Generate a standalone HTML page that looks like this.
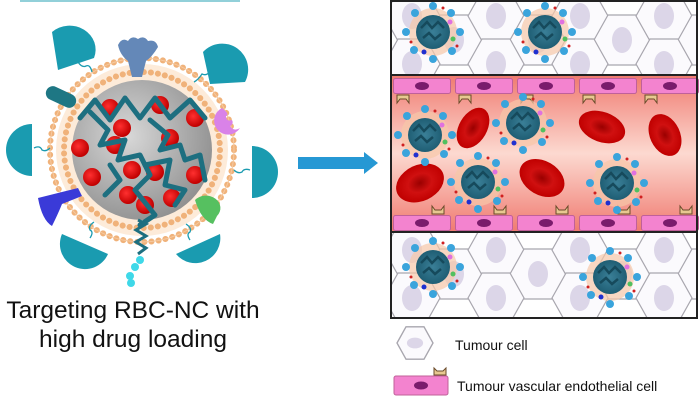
<!DOCTYPE html>
<html><head><meta charset="utf-8"><style>
html,body{margin:0;padding:0;background:#fff;}
body{width:700px;height:401px;overflow:hidden;position:relative;font-family:"Liberation Sans",sans-serif;}
svg{position:absolute;left:0;top:0;}
</style></head><body>
<svg width="700" height="401" viewBox="0 0 700 401" xmlns="http://www.w3.org/2000/svg">
<defs>
<radialGradient id="core" cx="0.4" cy="0.4" r="0.7"><stop offset="0" stop-color="#d8d8d8"/><stop offset="1" stop-color="#8a8a8a"/></radialGradient>
<radialGradient id="rbc" cx="0.5" cy="0.5" r="0.5"><stop offset="0" stop-color="#9a0000"/><stop offset="0.5" stop-color="#d01010"/><stop offset="1" stop-color="#c00000"/></radialGradient>
<radialGradient id="drug" cx="0.4" cy="0.4" r="0.6"><stop offset="0" stop-color="#ff3030"/><stop offset="1" stop-color="#c00000"/></radialGradient>
<linearGradient id="ves" x1="0" y1="0" x2="0" y2="1"><stop offset="0" stop-color="#f07a70"/><stop offset="0.5" stop-color="#fcd9d0"/><stop offset="1" stop-color="#f07a70"/></linearGradient>
<radialGradient id="npc" cx="0.5" cy="0.5" r="0.5"><stop offset="0" stop-color="#3a7f97"/><stop offset="1" stop-color="#1f5e74"/></radialGradient>
<symbol id="np" viewBox="-32 -32 64 64" overflow="visible">
<circle r="24" fill="#f6c7a8" opacity="0.7"/>
<circle r="17" fill="url(#npc)"/>
<path d="M-12 -4 l6 -6 l5 6 l6 -6 l6 6 M-10 6 l6 -5 l6 6 l6 -5" stroke="#164a5c" stroke-width="2.5" fill="none"/>
<g fill="#3aa4dc"><circle cx="0" cy="-26" r="4"/><circle cx="18" cy="-19" r="4"/><circle cx="27" cy="0" r="4"/><circle cx="19" cy="19" r="4"/><circle cx="0" cy="27" r="4"/><circle cx="-19" cy="18" r="4"/><circle cx="-27" cy="0" r="4"/><circle cx="-18" cy="-19" r="4"/></g>
<circle cx="-9" cy="20" r="2.5" fill="#2030d0"/><circle cx="20" cy="7" r="2.5" fill="#50c060"/><circle cx="17" cy="-10" r="2.5" fill="#e070e0"/>
<circle cx="-22" cy="10" r="1.5" fill="#d02020"/><circle cx="10" cy="-24" r="1.5" fill="#d02020"/><circle cx="24" cy="14" r="1.5" fill="#d02020"/>
</symbol>
<symbol id="hex" viewBox="-30 -26 60 52" overflow="visible">
<path d="M-28 0 L-14 -25 L14 -25 L28 0 L14 25 L-14 25 Z" fill="#fbfafd" stroke="#a8a6ae" stroke-width="1.2"/>
<ellipse rx="10" ry="13" fill="#dcd6e8"/>
</symbol>
<symbol id="endo" viewBox="0 0 58 16" overflow="visible">
<rect x="0.5" y="0.5" width="57" height="15" rx="2" fill="#f383cf" stroke="#c0609a"/>
<ellipse cx="29" cy="8" rx="7" ry="4" fill="#7a1c6c"/>
</symbol>
<clipPath id="ctop"><rect x="392" y="2" width="305" height="72"/></clipPath>
<clipPath id="cbot"><rect x="392" y="233" width="305" height="84"/></clipPath>
</defs>

<rect x="20" y="0" width="220" height="2" fill="#4ab0c0" opacity="0.6"/>

<!-- main particle -->
<circle cx="142" cy="150" r="86" fill="#fdebd9"/>
<circle cx="142" cy="150" r="92" fill="none" stroke="#f0b27a" stroke-width="6" stroke-dasharray="0.1 7" stroke-linecap="round"/>
<circle cx="142" cy="150" r="92" fill="none" stroke="#f5c9a0" stroke-width="1"/>
<circle cx="142" cy="150" r="78" fill="none" stroke="#f0b27a" stroke-width="6" stroke-dasharray="0.1 7" stroke-linecap="round"/>
<circle cx="142" cy="150" r="70" fill="url(#core)"/>
<g fill="url(#drug)">
<circle cx="110" cy="108" r="9"/><circle cx="160" cy="105" r="9"/><circle cx="195" cy="118" r="9"/>
<circle cx="122" cy="128" r="9"/><circle cx="170" cy="138" r="9"/><circle cx="80" cy="148" r="9"/>
<circle cx="115" cy="145" r="9"/><circle cx="92" cy="177" r="9"/><circle cx="132" cy="170" r="9"/>
<circle cx="155" cy="172" r="9"/><circle cx="195" cy="175" r="9"/><circle cx="128" cy="195" r="9"/>
<circle cx="172" cy="198" r="9"/><circle cx="145" cy="205" r="9"/>
</g>
<g stroke="#1d6f80" stroke-width="5" fill="none" stroke-linejoin="round" stroke-linecap="round">
<polyline points="80,118 95,100 110,120 125,98 140,118 155,98 170,118 190,100 205,118"/>
<polyline points="90,112 108,130 100,145 125,140 118,160 140,155 150,175 135,190 155,215 140,225"/>
<polyline points="150,120 168,135 160,150 180,145 185,160 200,155 205,180"/>
<polyline points="145,165 170,160 165,185 185,190 175,205"/>
<polyline points="110,165 120,180 105,195"/>
</g>
<g stroke="#1d6f80" stroke-width="3" fill="none">
<path d="M138 220 L146 224 L136 230 L146 236 L136 242 L146 248 L138 254"/>
</g>
<g fill="#3fd8e8"><circle cx="140" cy="260" r="4"/><circle cx="135" cy="267" r="4"/><circle cx="130" cy="276" r="4"/><circle cx="131" cy="283" r="4"/></g>
<!-- teal half-discs -->
<g fill="#1a9bb0">
<path d="M52 32 a26 24 0 0 1 42 26 L58 70 Z"/>
<path d="M203 52 a26 26 0 0 1 42 30 L210 84 Z"/>
<path d="M32 124 a26 26 0 0 0 0 52 Z"/>
<path d="M252 146 a26 26 0 0 1 0 52 Z"/>
<path d="M62 234 a25 25 0 0 0 46 20 Z"/>
<path d="M176 254 a25 25 0 0 0 44 -20 Z"/>
</g>
<g stroke="#1a9bb0" stroke-width="1.3" fill="none">
<path d="M78 62 q4 6 8 4 q4 -2 6 6"/><path d="M210 72 q-4 4 -8 2 q-4 6 -8 8"/>
<path d="M34 148 q6 -3 8 2 q4 2 8 -2"/><path d="M250 170 q-6 -2 -8 2 q-4 2 -8 -2"/>
<path d="M90 238 q4 -6 0 -8 q-2 -4 4 -8"/><path d="M190 240 q-4 -6 0 -8 q2 -4 -4 -8"/>
</g>
<path d="M118 45 q4 -8 10 -4 q4 -6 10 -2 q6 -4 10 2 q8 -2 10 6 q-6 10 -12 14 l-4 16 l-10 0 l-4 -16 q-8 -6 -10 -16 z" fill="#6488b8"/>
<rect x="45" y="90" width="32" height="14" rx="7" fill="#1e7784" transform="rotate(25 61 97)"/>
<path d="M222 108 a14 14 0 1 0 18 20 q-6 4 -10 -2 q4 -2 2 -6 q-6 2 -6 -4 q4 -2 -4 -8 z" fill="#d982e8"/>
<path d="M38 198 l40 -10 l4 8 l-20 8 q-4 10 -10 22 q-10 -6 -14 -28 z" fill="#3a3ad8"/>
<path d="M195 200 a14 12 0 1 1 22 16 l-4 8 q-12 -4 -18 -24 z" fill="#56c060"/>

<text x="133" y="318" text-anchor="middle" font-family="Liberation Sans, sans-serif" font-size="24.5" fill="#111">Targeting RBC-NC with</text>
<text x="133" y="347" text-anchor="middle" font-family="Liberation Sans, sans-serif" font-size="24.5" fill="#111">high drug loading</text>

<path d="M298 157 L364 157 L364 152 L378 163 L364 174 L364 169 L298 169 Z" fill="#2698d4"/>

<rect x="391" y="1" width="306" height="317" fill="#fff"/>
<g clip-path="url(#ctop)">
<use href="#hex" x="382" y="-10" width="60" height="52"/><use href="#hex" x="424" y="14" width="60" height="52"/><use href="#hex" x="466" y="-10" width="60" height="52"/><use href="#hex" x="508" y="14" width="60" height="52"/><use href="#hex" x="550" y="-10" width="60" height="52"/><use href="#hex" x="592" y="14" width="60" height="52"/><use href="#hex" x="634" y="-10" width="60" height="52"/><use href="#hex" x="676" y="14" width="60" height="52"/>
<use href="#hex" x="382" y="38" width="60" height="52"/><use href="#hex" x="466" y="38" width="60" height="52"/><use href="#hex" x="550" y="38" width="60" height="52"/><use href="#hex" x="634" y="38" width="60" height="52"/>
<use href="#np" x="401" y="0" width="64" height="64"/>
<use href="#np" x="513" y="0" width="64" height="64"/>
</g>
<g clip-path="url(#cbot)">
<use href="#hex" x="382" y="224" width="60" height="52"/><use href="#hex" x="424" y="248" width="60" height="52"/><use href="#hex" x="466" y="224" width="60" height="52"/><use href="#hex" x="508" y="248" width="60" height="52"/><use href="#hex" x="550" y="224" width="60" height="52"/><use href="#hex" x="592" y="248" width="60" height="52"/><use href="#hex" x="634" y="224" width="60" height="52"/><use href="#hex" x="676" y="248" width="60" height="52"/>
<use href="#hex" x="382" y="272" width="60" height="52"/><use href="#hex" x="466" y="272" width="60" height="52"/><use href="#hex" x="550" y="272" width="60" height="52"/><use href="#hex" x="634" y="272" width="60" height="52"/>
<use href="#np" x="401" y="235" width="64" height="64"/>
<use href="#np" x="578" y="245" width="64" height="64"/>
</g>
<rect x="392" y="75" width="305" height="157" fill="url(#ves)"/>
<use href="#endo" x="393" y="78" width="58" height="16"/><use href="#endo" x="455" y="78" width="58" height="16"/><use href="#endo" x="517" y="78" width="58" height="16"/><use href="#endo" x="579" y="78" width="58" height="16"/><use href="#endo" x="641" y="78" width="58" height="16"/>
<use href="#endo" x="393" y="215" width="58" height="16"/><use href="#endo" x="455" y="215" width="58" height="16"/><use href="#endo" x="517" y="215" width="58" height="16"/><use href="#endo" x="579" y="215" width="58" height="16"/><use href="#endo" x="641" y="215" width="58" height="16"/>
<g fill="#e8c890" stroke="#6a4a2a" stroke-width="1">
<path d="M397 95 h12 v8 l-3 -4 h-6 l-3 4 z"/><path d="M459 95 h12 v8 l-3 -4 h-6 l-3 4 z"/><path d="M521 95 h12 v8 l-3 -4 h-6 l-3 4 z"/><path d="M583 95 h12 v8 l-3 -4 h-6 l-3 4 z"/><path d="M645 95 h12 v8 l-3 -4 h-6 l-3 4 z"/>
<path d="M432 214 h12 v-8 l-3 4 h-6 l-3 -4 z"/><path d="M494 214 h12 v-8 l-3 4 h-6 l-3 -4 z"/><path d="M556 214 h12 v-8 l-3 4 h-6 l-3 -4 z"/><path d="M618 214 h12 v-8 l-3 4 h-6 l-3 -4 z"/><path d="M680 214 h12 v-8 l-3 4 h-6 l-3 -4 z"/>
</g>
<g fill="url(#rbc)">
<ellipse cx="473" cy="128" rx="22" ry="14" transform="rotate(-60 473 128)"/>
<ellipse cx="602" cy="127" rx="24" ry="15" transform="rotate(20 602 127)"/>
<ellipse cx="665" cy="135" rx="22" ry="15" transform="rotate(65 665 135)"/>
<ellipse cx="420" cy="183" rx="25" ry="18" transform="rotate(-25 420 183)"/>
<ellipse cx="542" cy="178" rx="24" ry="17" transform="rotate(30 542 178)"/>
</g>
<use href="#np" x="393" y="103" width="64" height="64"/>
<use href="#np" x="491" y="91" width="64" height="64"/>
<use href="#np" x="446" y="150" width="64" height="64"/>
<use href="#np" x="585" y="151" width="64" height="64"/>
<line x1="392" y1="75" x2="697" y2="75" stroke="#222" stroke-width="2"/>
<line x1="392" y1="232" x2="697" y2="232" stroke="#222" stroke-width="2"/>
<rect x="391" y="1" width="306" height="317" fill="none" stroke="#222" stroke-width="2"/>

<g transform="translate(415 343) scale(0.9)"><path d="M-20 0 L-10 -18 L10 -18 L20 0 L10 18 L-10 18 Z" fill="#fbfafd" stroke="#a8a6ae" stroke-width="1.5"/><ellipse rx="9" ry="6" fill="#dcd6e8"/></g>
<text x="455" y="350" font-family="Liberation Sans, sans-serif" font-size="14" fill="#111">Tumour cell</text>
<path d="M434 375 h12 v-7 l-3 3 h-6 l-3 -3 z" fill="#e8c890" stroke="#6a4a2a" stroke-width="1"/>
<rect x="394" y="376" width="54" height="19" rx="2" fill="#f383cf" stroke="#c0609a"/>
<ellipse cx="421" cy="385.5" rx="7" ry="4" fill="#7a1c6c"/>
<text x="457" y="391" font-family="Liberation Sans, sans-serif" font-size="14" fill="#111">Tumour vascular endothelial cell</text>
</svg>
</body></html>
